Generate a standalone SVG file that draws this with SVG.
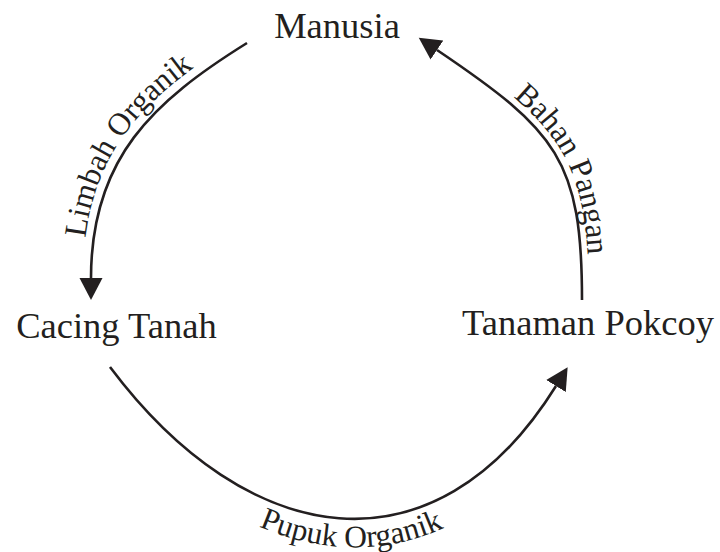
<svg xmlns="http://www.w3.org/2000/svg" width="720" height="552" viewBox="0 0 720 552">
  <style>
    .node { font-family: "Liberation Serif", "Times New Roman", serif; font-size: 36.5px; fill: #231f20; }
    .lbl { font-family: "Liberation Serif", "Times New Roman", serif; font-size: 31.5px; fill: #231f20; }
    .conn { fill: none; stroke: #231f20; stroke-width: 2.6; }
  </style>
  <defs>
    <marker id="arrow" markerUnits="userSpaceOnUse" viewBox="0 -12 23 24" markerWidth="23" markerHeight="24" refX="0" refY="0" orient="auto">
      <path d="M0,-11.5 L22,0 L0,11.5 Z" fill="#231f20"/>
    </marker>
    <path id="tp-left" d="M83,278 C83,152 146,95 242.5,35.5"/>
    <path id="tp-right" d="M441,44 C562,125 589,160 589,300"/>
    <path id="tp-bottom" d="M87.5,382 C240,584 445,614 580,399"/>
  </defs>
  <rect width="720" height="552" fill="#ffffff"/>

  <g id="connectors">
    <path id="c-limbah" class="conn" d="M247,43 C153.5,101.3 91,158 91,278" marker-end="url(#arrow)"/>
    <path id="c-pupuk" class="conn" d="M110,367 C247.4,550.2 434.6,580.7 556,386" marker-end="url(#arrow)"/>
    <path id="c-bahan" class="conn" d="M582,300 C582,160 557,131 437,50" marker-end="url(#arrow)"/>
    <text class="lbl"><textPath href="#tp-left" startOffset="47%" text-anchor="middle">Limbah Organik</textPath></text>
    <text class="lbl"><textPath href="#tp-right" startOffset="57%" text-anchor="middle">Bahan Pangan</textPath></text>
    <text class="lbl"><textPath href="#tp-bottom" startOffset="53%" text-anchor="middle">Pupuk Organik</textPath></text>
  </g>

  <g id="node-manusia">
    <text class="node" x="337" y="38" text-anchor="middle">Manusia</text>
  </g>
  <g id="node-cacing">
    <text class="node" x="116.5" y="338" text-anchor="middle">Cacing Tanah</text>
  </g>
  <g id="node-pokcoy">
    <text class="node" x="588" y="335" text-anchor="middle">Tanaman Pokcoy</text>
  </g>
</svg>
